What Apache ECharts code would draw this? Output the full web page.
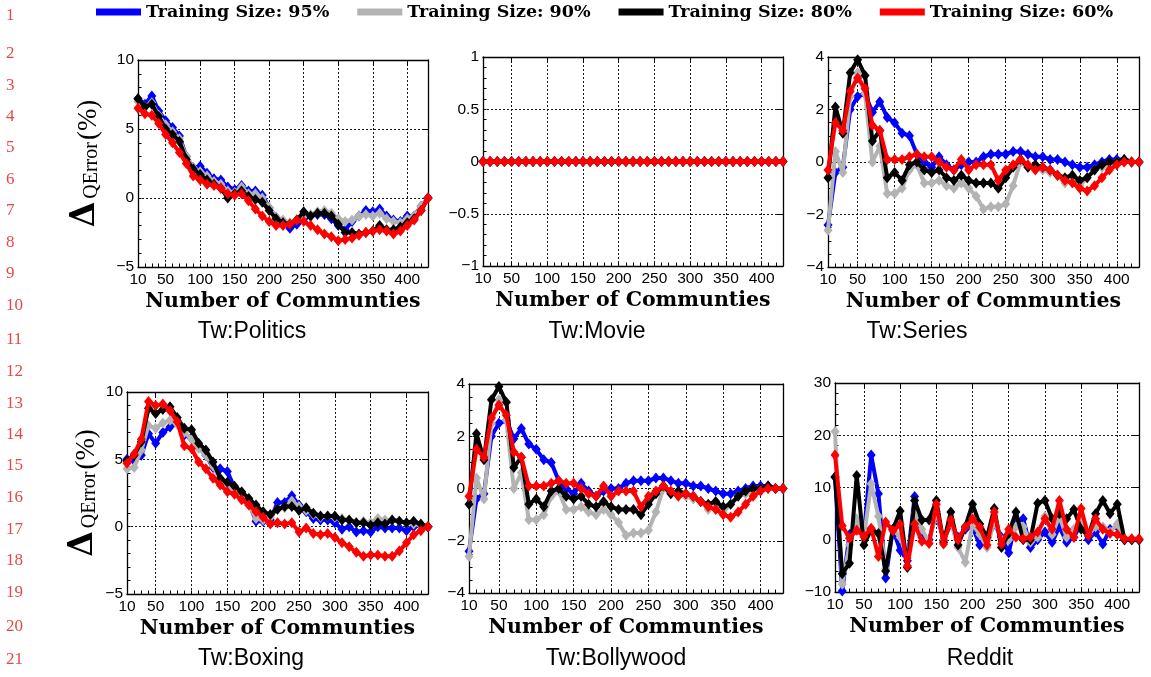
<!DOCTYPE html>
<html>
<head>
<meta charset="utf-8">
<script src="https://cdn.jsdelivr.net/npm/echarts@6/dist/echarts.min.js"></script>
<style>
html, body { margin: 0; padding: 0; background: #ffffff; }
#chart { width: 1151px; height: 677px; }
</style>
</head>
<body>
<div id="chart"></div>
<script>
// Number of communities on the x axis
const communities = [10, 20, 30, 40, 50, 60, 70, 80, 90, 100, 110, 120, 130, 140, 150, 160, 170, 180, 190, 200,
  210, 220, 230, 240, 250, 260, 270, 280, 290, 300, 310, 320, 330, 340, 350, 360, 370, 380, 390, 400, 410, 420, 430];

const sizeNames = ['Training Size: 95%', 'Training Size: 90%', 'Training Size: 80%', 'Training Size: 60%'];

// Tw:Politics
const politics95 = [7.2, 6.8, 7.4, 6.3, 5.6, 5.1, 4.5, 3.0, 2.2, 2.3, 1.8, 1.4, 1.3, 0.8, 0.6, 0.9, 0.5, 0.5, 0.2, -0.7,
  -1.4, -1.7, -2.2, -1.9, -1.5, -1.3, -1.2, -1.2, -1.5, -2.0, -2.3, -1.7, -1.3, -0.9, -1.0, -0.8, -1.3, -1.6, -1.7, -1.3, -1.3, -0.6, 0];
const politics90 = [7.0, 6.6, 6.9, 6.0, 5.3, 4.8, 4.3, 3.0, 2.2, 1.9, 1.6, 1.2, 1.0, 0.5, 0.4, 0.8, 0.3, 0.3, 0.0, -0.7,
  -1.4, -1.6, -1.8, -1.6, -1.3, -1.2, -1.0, -0.9, -1.1, -1.5, -1.7, -1.6, -1.3, -1.2, -1.3, -1.1, -1.5, -1.7, -1.8, -1.5, -1.3, -0.6, 0];
const politics80 = [7.2, 6.6, 6.8, 5.9, 5.0, 4.6, 4.1, 2.8, 2.1, 1.7, 1.3, 1.0, 0.7, 0.0, 0.3, 0.5, 0.1, -0.1, -0.3, -0.9,
  -1.5, -1.8, -1.9, -1.6, -1.0, -1.3, -1.1, -1.1, -1.3, -1.9, -2.5, -2.5, -2.6, -2.5, -2.4, -2.0, -2.3, -2.3, -2.1, -1.8, -1.5, -0.9, 0];
const politics60 = [6.5, 6.1, 6.0, 5.4, 4.6, 4.0, 3.3, 2.5, 1.6, 1.3, 1.0, 0.9, 0.7, 0.3, 0.2, 0.3, -0.2, -0.8, -1.3, -1.7,
  -2.0, -2.0, -1.9, -1.6, -1.7, -2.0, -2.3, -2.6, -2.8, -3.1, -3.0, -2.9, -2.7, -2.5, -2.4, -2.3, -2.4, -2.6, -2.4, -2.0, -1.6, -0.9, 0];

// Tw:Movie (every training size stays at zero)
const movie95 = [0, 0, 0, 0, 0, 0, 0, 0, 0, 0, 0, 0, 0, 0, 0, 0, 0, 0, 0, 0, 0, 0, 0, 0, 0, 0, 0, 0, 0, 0, 0, 0, 0, 0, 0, 0, 0, 0, 0, 0, 0, 0, 0];
const movie90 = [0, 0, 0, 0, 0, 0, 0, 0, 0, 0, 0, 0, 0, 0, 0, 0, 0, 0, 0, 0, 0, 0, 0, 0, 0, 0, 0, 0, 0, 0, 0, 0, 0, 0, 0, 0, 0, 0, 0, 0, 0, 0, 0];
const movie80 = [0, 0, 0, 0, 0, 0, 0, 0, 0, 0, 0, 0, 0, 0, 0, 0, 0, 0, 0, 0, 0, 0, 0, 0, 0, 0, 0, 0, 0, 0, 0, 0, 0, 0, 0, 0, 0, 0, 0, 0, 0, 0, 0];
const movie60 = [0, 0, 0, 0, 0, 0, 0, 0, 0, 0, 0, 0, 0, 0, 0, 0, 0, 0, 0, 0, 0, 0, 0, 0, 0, 0, 0, 0, 0, 0, 0, 0, 0, 0, 0, 0, 0, 0, 0, 0, 0, 0, 0];

// Tw:Series
const series95 = [-2.4, -0.4, -0.2, 2.0, 2.5, 2.6, 1.9, 2.3, 1.7, 1.5, 1.1, 1.0, 0.3, 0.0, -0.2, 0.2, -0.1, -0.3, -0.1, 0.0,
  0.0, 0.2, 0.3, 0.3, 0.3, 0.4, 0.4, 0.3, 0.2, 0.2, 0.1, 0.1, 0.0, -0.1, -0.2, -0.2, -0.1, 0.0, 0.1, 0.1, 0.1, 0.0, 0];
const series90 = [-2.6, 0.4, -0.4, 2.5, 3.4, 2.6, 0.0, 0.6, -1.2, -1.2, -1.0, -0.3, -0.1, -0.8, -0.8, -0.7, -0.9, -1.0, -0.8, -1.0,
  -1.3, -1.8, -1.7, -1.7, -1.6, -0.9, 0.0, -0.2, -0.2, -0.3, -0.4, -0.5, -0.8, -0.7, -0.9, -0.6, -0.3, -0.2, -0.1, 0.0, 0.0, 0.0, 0];
const series80 = [-0.6, 2.1, 1.1, 3.4, 3.9, 3.3, 0.8, 1.2, -0.6, -0.4, -0.7, -0.1, 0.0, -0.3, -0.4, -0.3, -0.6, -0.7, -0.5, -0.7,
  -0.8, -0.8, -0.8, -1.0, -0.6, -0.2, 0.1, -0.2, -0.1, -0.2, -0.3, -0.5, -0.6, -0.5, -0.7, -0.6, -0.3, -0.1, 0.0, 0.0, 0.1, 0.0, 0];
const series60 = [-0.3, 1.5, 1.2, 2.7, 3.2, 2.8, 1.4, 1.2, 0.1, 0.1, 0.1, 0.2, 0.3, 0.2, 0.2, 0.0, -0.2, -0.3, 0.1, -0.3,
  -0.1, -0.1, -0.1, -0.7, -0.3, -0.1, 0.1, -0.1, -0.3, -0.2, -0.3, -0.5, -0.7, -0.8, -1.0, -1.1, -0.9, -0.6, -0.3, -0.1, 0.0, 0.0, 0];

// Tw:Boxing
const boxing95 = [5.0, 4.9, 5.3, 6.9, 6.2, 7.0, 7.4, 7.7, 6.8, 6.6, 6.0, 5.3, 4.4, 4.3, 4.1, 2.9, 2.5, 1.8, 0.4, 0.4,
  0.5, 1.8, 1.8, 2.3, 1.6, 1.1, 0.6, 0.5, 0.5, 0.3, -0.2, 0.0, -0.4, -0.3, -0.4, 0.0, -0.1, -0.1, -0.1, -0.3, 0.0, 0.1, 0];
const boxing90 = [4.3, 4.4, 5.7, 7.5, 7.3, 7.7, 7.9, 7.6, 7.0, 6.5, 5.8, 5.3, 4.5, 3.5, 3.1, 2.7, 2.3, 1.6, 0.6, 0.5,
  0.7, 1.3, 1.4, 1.9, 1.5, 1.2, 0.9, 0.7, 0.8, 0.7, 0.6, 0.5, 0.3, 0.4, 0.3, 0.6, 0.5, 0.5, 0.4, 0.3, 0.2, 0.1, 0];
const boxing80 = [4.9, 5.3, 6.3, 8.8, 8.4, 8.7, 8.9, 8.1, 7.3, 7.2, 6.2, 5.7, 4.8, 3.6, 3.3, 3.0, 2.6, 2.1, 1.6, 1.1,
  0.9, 1.3, 1.5, 1.5, 1.2, 1.4, 1.0, 0.8, 0.8, 0.8, 0.5, 0.5, 0.3, 0.3, 0.1, 0.3, 0.2, 0.5, 0.4, 0.3, 0.4, 0.2, 0];
const boxing60 = [4.7, 5.4, 6.5, 9.3, 9.0, 9.1, 8.6, 7.8, 6.0, 5.8, 4.8, 4.3, 3.6, 3.1, 2.6, 2.4, 2.0, 1.6, 1.1, 0.7,
  0.2, 0.3, 0.2, 0.3, -0.4, -0.1, -0.5, -0.6, -0.5, -0.8, -1.2, -1.5, -1.9, -2.2, -2.1, -2.1, -2.2, -2.2, -1.8, -1.2, -0.6, -0.3, 0];

// Tw:Bollywood
const bollywood95 = [-2.4, -0.4, -0.2, 2.0, 2.5, 2.6, 1.9, 2.3, 1.7, 1.5, 1.1, 1.0, 0.3, 0.0, -0.2, 0.2, -0.1, -0.3, -0.1, 0.0,
  0.0, 0.2, 0.3, 0.3, 0.3, 0.4, 0.4, 0.3, 0.2, 0.2, 0.1, 0.1, 0.0, -0.1, -0.2, -0.2, -0.1, 0.0, 0.1, 0.1, 0.1, 0.0, 0];
const bollywood90 = [-2.6, 0.4, -0.4, 2.5, 3.4, 2.6, 0.0, 0.6, -1.2, -1.2, -1.0, -0.3, -0.1, -0.8, -0.8, -0.7, -0.9, -1.0, -0.8, -1.0,
  -1.3, -1.8, -1.7, -1.7, -1.6, -0.9, 0.0, -0.2, -0.2, -0.3, -0.4, -0.5, -0.8, -0.7, -0.9, -0.6, -0.3, -0.2, -0.1, 0.0, 0.0, 0.0, 0];
const bollywood80 = [-0.6, 2.1, 1.1, 3.4, 3.9, 3.3, 0.8, 1.2, -0.6, -0.4, -0.7, -0.1, 0.0, -0.3, -0.4, -0.3, -0.6, -0.7, -0.5, -0.7,
  -0.8, -0.8, -0.8, -1.0, -0.6, -0.2, 0.1, -0.2, -0.1, -0.2, -0.3, -0.5, -0.6, -0.5, -0.7, -0.6, -0.3, -0.1, 0.0, 0.0, 0.1, 0.0, 0];
const bollywood60 = [-0.3, 1.5, 1.2, 2.7, 3.2, 2.8, 1.4, 1.2, 0.1, 0.1, 0.1, 0.2, 0.3, 0.2, 0.2, 0.0, -0.2, -0.3, 0.1, -0.3,
  -0.1, -0.1, -0.1, -0.7, -0.3, -0.1, 0.1, -0.1, -0.3, -0.2, -0.3, -0.5, -0.7, -0.8, -1.0, -1.1, -0.9, -0.6, -0.3, -0.1, 0.0, 0.0, 0];

// Reddit
const reddit95 = [12.0, -9.8, 1.0, 3.0, 1.0, 16.2, 8.8, -7.3, 2.0, -2.0, -4.0, 8.3, 0.5, 0.0, 5.0, 0.0, 3.0, 0.5, 2.0, 2.5,
  -1.0, 0.0, 3.0, 0.5, -2.5, 3.5, 4.0, -1.5, 0.0, 1.5, -0.5, 2.5, -0.5, 0.5, 3.0, 0.0, 1.5, -0.8, 2.0, 2.5, 0.0, 0.0, 0.0];
const reddit90 = [20.7, -8.5, -1.0, 4.0, 0.5, 10.7, 4.5, -5.5, 2.0, 0.5, -3.5, 5.0, 2.0, -0.5, 5.5, 0.0, 3.5, -1.5, -4.3, 3.0,
  1.0, -1.5, 3.5, 0.0, 0.0, 2.5, 2.5, -0.5, 0.5, 4.5, 1.0, 4.5, 0.5, 2.0, 4.0, 1.0, 2.5, 2.5, 1.5, 3.0, 0.0, 0.0, 0.0];
const reddit80 = [12.0, -6.5, -4.5, 12.3, -1.0, 2.0, 1.2, -6.0, 2.0, 5.5, -5.3, 7.5, 3.8, 3.8, 7.5, -0.5, 5.3, -1.0, 2.5, 6.8,
  3.0, 0.5, 6.0, -1.5, 1.2, 5.3, 0.0, 0.0, 7.0, 7.5, 4.0, 5.0, 4.0, 5.8, 2.0, 0.8, 5.0, 7.5, 5.0, 6.8, 0.0, 0.0, 0.0];
const reddit60 = [16.2, 2.7, 0.3, 1.8, 0.6, 2.2, -3.2, 3.4, 1.7, 2.9, -5.0, 3.0, -0.3, -0.7, 6.8, -0.8, 3.8, 0.0, 2.4, 4.0,
  2.4, -1.0, 5.3, -0.8, 2.0, 0.5, 0.2, 0.5, 1.5, 4.0, 2.0, 7.5, 2.0, 0.5, 6.0, 0.8, 4.0, 2.0, 1.2, 1.0, 0.2, 0.2, 0.2];

const panelTitles = ['Tw:Politics', 'Tw:Movie', 'Tw:Series', 'Tw:Boxing', 'Tw:Bollywood', 'Reddit'];
const panelSeries = [
  [politics95, politics90, politics80, politics60],
  [movie95, movie90, movie80, movie60],
  [series95, series90, series80, series60],
  [boxing95, boxing90, boxing80, boxing60],
  [bollywood95, bollywood90, bollywood80, bollywood60],
  [reddit95, reddit90, reddit80, reddit60]
];

// Axis ticks
const xTickLabels = [10, 50, 100, 150, 200, 250, 300, 350, 400];
const xGridTicks = [50, 100, 150, 200, 250, 300, 350, 400];
const yTickLabels = [
  [-5, 0, 5, 10],
  [-1, -0.5, 0, 0.5, 1],
  [-4, -2, 0, 2, 4],
  [-5, 0, 5, 10],
  [-4, -2, 0, 2, 4],
  [-10, 0, 10, 20, 30]
];
const yMinorStep = [1, 0.1, 0.5, 1, 0.5, 2];
const xAxisName = 'Number of Communties';
const lineNumbers = [1, 2, 3, 4, 5, 6, 7, 8, 9, 10, 11, 12, 13, 14, 15, 16, 17, 18, 19, 20, 21];

// ---- layout & style ----
const sizeColors = ['#0000ff', '#b3b3b3', '#000000', '#ff0000'];
const gridBoxes = [
  { left: 138, top: 60, width: 290, height: 207 },
  { left: 483, top: 57, width: 300, height: 209 },
  { left: 828, top: 57, width: 311, height: 210 },
  { left: 127, top: 392, width: 301, height: 202 },
  { left: 469, top: 384, width: 314, height: 209 },
  { left: 835, top: 383, width: 304, height: 209 }
];
const titleSpots = [[252, 332], [597, 332], [917, 332], [251, 659], [616, 659], [980, 659]];
const lineNumberY = [16, 54, 86, 117, 148, 180, 211, 243, 274, 306, 340, 372, 404, 435, 466, 498, 530, 561, 593, 627, 660];
const yNameGap = { 0: 36, 3: 27 };

const sans = '"Liberation Sans", Arial, sans-serif';
const serif = '"DejaVu Serif", serif';
const frameLine = { show: true, onZero: false, lineStyle: { color: '#000', width: 1.3 } };
const gridLine = { show: true, lineStyle: { color: '#000', width: 0.9, type: [2, 2] } };

function minusSign(v) {
  return String(v).replace('-', '\u2212');
}

const grids = [], xAxes = [], yAxes = [], seriesList = [], graphics = [];

gridBoxes.forEach(function (box, g) {
  grids.push(Object.assign({ outerBoundsMode: 'none', containLabel: false }, box));
  const ticks = yTickLabels[g];
  const yMin = ticks[0], yMax = ticks[ticks.length - 1];

  // bottom axis: minor ticks every 10, labels, axis title
  xAxes.push({
    type: 'value', gridIndex: g, position: 'bottom', min: 10, max: 430, interval: 10,
    axisLine: frameLine,
    axisTick: { show: true, inside: true, length: 3.5, lineStyle: { color: '#000', width: 1 } },
    axisLabel: { customValues: xTickLabels, margin: 5, color: '#000', fontFamily: sans, fontSize: 15.5 },
    splitLine: { show: false },
    name: xAxisName, nameLocation: 'middle', nameGap: 24,
    nameTextStyle: { fontFamily: serif, fontWeight: 'bold', fontSize: 20.5, color: '#000' }
  });
  // top axis: major ticks and dotted vertical grid
  xAxes.push({
    type: 'value', gridIndex: g, position: 'top', min: 10, max: 430,
    axisLine: frameLine,
    axisTick: { show: true, inside: true, length: 6, customValues: xGridTicks, lineStyle: { color: '#000', width: 1 } },
    axisLabel: { show: false },
    splitLine: gridLine
  });
  // left axis: minor ticks, labels
  const left = {
    type: 'value', gridIndex: g, position: 'left', min: yMin, max: yMax, interval: yMinorStep[g],
    axisLine: frameLine,
    axisTick: { show: true, inside: true, length: 3.5, lineStyle: { color: '#000', width: 1 } },
    axisLabel: { customValues: ticks, margin: 4, color: '#000', fontFamily: sans, fontSize: 15.5, formatter: minusSign },
    splitLine: { show: false }
  };
  if (yNameGap[g] !== undefined) {
    Object.assign(left, {
      name: '{d|\u0394}{s|QError}{p|(%)}',
      nameLocation: 'middle', nameRotate: 90, nameGap: yNameGap[g],
      nameTextStyle: {
        color: '#000',
        rich: {
          d: { fontFamily: serif, fontWeight: 'bold', fontSize: 33, color: '#000', verticalAlign: 'bottom' },
          s: { fontFamily: '"Liberation Serif", serif', fontSize: 20, color: '#000', verticalAlign: 'bottom', padding: [0, 2, 0, 3] },
          p: { fontFamily: '"Liberation Serif", serif', fontSize: 27, color: '#000', verticalAlign: 'bottom' }
        }
      }
    });
  }
  yAxes.push(left);
  // right axis: major ticks and dotted horizontal grid
  yAxes.push({
    type: 'value', gridIndex: g, position: 'right', min: yMin, max: yMax,
    axisLine: frameLine,
    axisTick: { show: true, inside: true, length: 6, customValues: ticks, lineStyle: { color: '#000', width: 1 } },
    axisLabel: { show: false },
    splitLine: gridLine
  });

  panelSeries[g].forEach(function (values, s) {
    seriesList.push({
      name: sizeNames[s],
      type: 'line',
      xAxisIndex: 2 * g,
      yAxisIndex: 2 * g,
      data: communities.map(function (c, i) { return [c, values[i]]; }),
      symbol: 'diamond',
      symbolSize: [9, 11],
      showSymbol: true,
      lineStyle: { color: sizeColors[s], width: 4 },
      itemStyle: { color: sizeColors[s] },
      emphasis: { disabled: true },
      clip: false,
      z: 3 + s
    });
  });

  graphics.push({
    type: 'text', x: titleSpots[g][0], y: titleSpots[g][1],
    style: { text: panelTitles[g], font: '23px ' + sans, fill: '#000',
      align: 'center', verticalAlign: 'middle', textAlign: 'center', textVerticalAlign: 'middle' }
  });
});

lineNumbers.forEach(function (n, i) {
  graphics.push({
    type: 'text', x: 6, y: lineNumberY[i],
    style: { text: String(n), font: '17px "Liberation Serif", serif', fill: '#e5484a',
      align: 'left', verticalAlign: 'middle', textAlign: 'left', textVerticalAlign: 'middle' }
  });
});

const chart = echarts.init(document.getElementById('chart'), null, { renderer: 'canvas' });
chart.setOption({
  animation: false,
  backgroundColor: '#ffffff',
  legend: {
    data: sizeNames, top: 3, left: 96, padding: 0, icon: 'rect', itemWidth: 45, itemHeight: 7, itemGap: 28,
    textStyle: { fontFamily: serif, fontWeight: 'bold', fontSize: 17.5, color: '#000' }
  },
  grid: grids,
  xAxis: xAxes,
  yAxis: yAxes,
  series: seriesList,
  graphic: graphics
});
</script>
</body>
</html>
